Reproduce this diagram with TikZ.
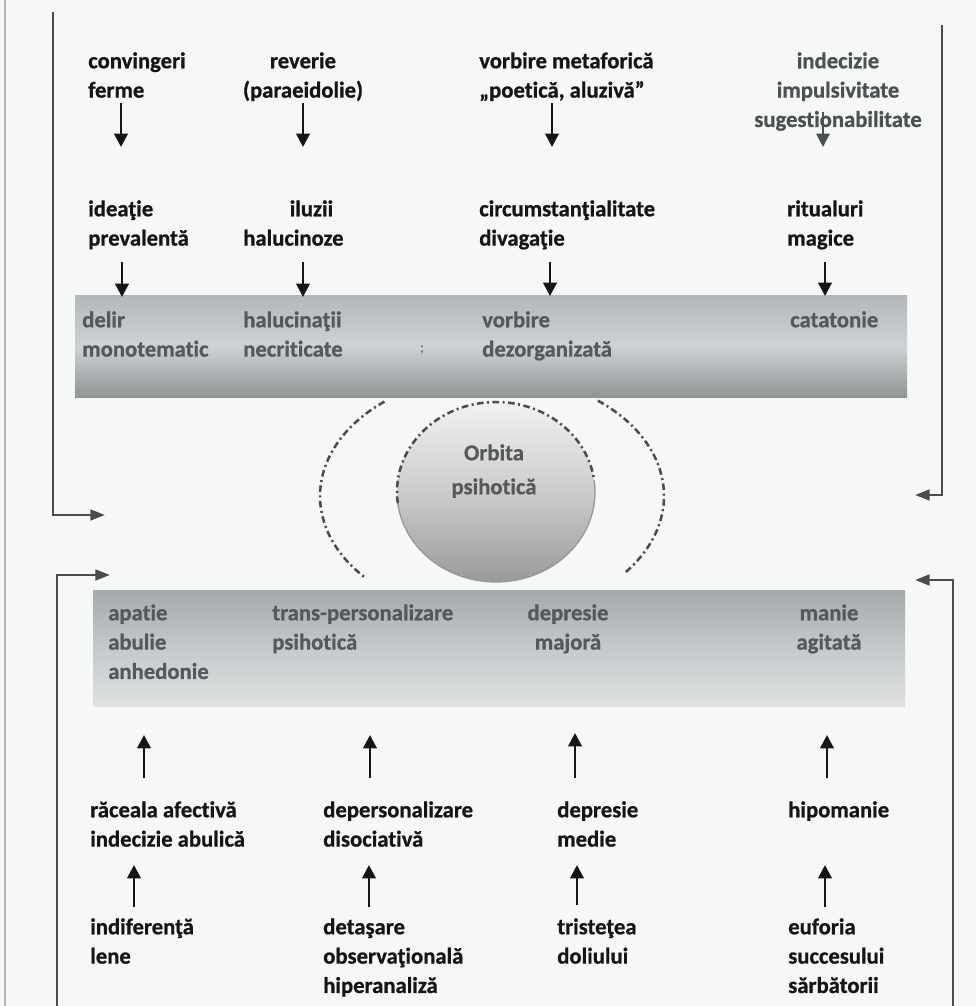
\documentclass[tikz,border=0pt]{standalone}
\usepackage{fontspec}
\setmainfont{Carlito}[Ligatures={TeX,NoCommon}, BoldFeatures={FakeBold=0.8}]
\usetikzlibrary{arrows.meta}

\definecolor{ink}{HTML}{151515}
\definecolor{softink}{HTML}{4C5052}
\definecolor{bandink}{HTML}{55595B}
\definecolor{wire}{HTML}{4A4C4E}
\definecolor{paper}{HTML}{F6F7F7}
\definecolor{pageedge}{HTML}{B4B6B7}
\definecolor{bandAtop}{HTML}{B3B7B9}
\definecolor{bandAmid}{HTML}{CFD2D4}
\definecolor{bandAbot}{HTML}{8F9495}
\definecolor{bandBtop}{HTML}{A5A9AB}
\definecolor{bandBmid}{HTML}{C6C9CB}
\definecolor{bandBbot}{HTML}{DFE1E2}
\definecolor{ballTop}{HTML}{F2F2F2}
\definecolor{ballMid}{HTML}{CCCCCC}
\definecolor{ballBot}{HTML}{9A9A9A}

\tikzset{
  lbl/.style={font=\fontsize{17}{22}\selectfont\bfseries, inner sep=0pt,
              align=left, anchor=north west, yshift=15.4pt, text=ink},
  clbl/.style={lbl, anchor=north, align=center},
  bandtxt/.style={text=bandink},
  softtxt/.style={text=softink},
  dnarr/.style={draw=ink, line width=2.1pt, -{Triangle[length=10pt,width=10pt]}},
  softarr/.style={dnarr, draw=softink, line width=1.5pt},
  wirearr/.style={draw=wire, line width=2pt, -{Triangle[length=11pt,width=8pt]}},
  orbitline/.style={draw=wire, line width=1.9pt,
                    dash pattern=on 5pt off 2.6pt on 1.5pt off 2.6pt},
}

\begin{document}
\begin{tikzpicture}[x=0.75pt, y=-0.75pt]
  % page
  \fill[paper] (0,0) rectangle (976,1006);
  \useasboundingbox (0,0) rectangle (976,1006);
  \draw[pageedge, line width=1.1pt] (5,0) -- (5,1006);

  % shaded bands
  \shade[top color=bandAtop, bottom color=bandAbot, middle color=bandAmid]
    (75,295) rectangle (907,397);
  \shade[top color=bandBtop, bottom color=bandBbot, middle color=bandBmid]
    (93,590) rectangle (905,706);

  % psychotic orbit
  \coordinate (C) at (496,492);
  \coordinate (O) at (492,496);
  \shade[top color=ballTop, bottom color=ballBot, middle color=ballMid]
    (C) ellipse [x radius=99, y radius=90];
  \draw[draw=gray!80, line width=1pt] (C) ++(-7.6:99 and 90)
    arc[start angle=-7.6, end angle=173, x radius=99, y radius=90];
  \draw[orbitline] (C) ++(173:99 and 90)
    arc[start angle=173, end angle=352.4, x radius=99, y radius=90];
  \draw[orbitline] (O) ++(231.3:172 and 121)
    arc[start angle=231.3, end angle=137.4, x radius=172, y radius=121];
  \draw[orbitline] (O) ++(-52:172 and 121)
    arc[start angle=-52, end angle=40, x radius=172, y radius=121];
  \node[clbl, font=\fontsize{17}{25.5}\selectfont\bfseries, yshift=2.45pt,
        text=bandink] (orb) at (494,460) {\strut Orbita\\psihotică};

  % row 1
  \node[lbl]  (conv) at (88,68)  {\strut convingeri\\ferme};
  \node[clbl] (rev)  at (303,68) {\strut reverie\\(paraeidolie)};
  \node[lbl]  (vmet) at (479,68) {\strut vorbire metaforică\\„poetică, aluzivă”};
  \node[clbl, softtxt] (indc) at (838,68) {\strut indecizie\\impulsivitate\\sugestionabilitate};

  % row 2
  \node[lbl] (idea) at (88,216)  {\strut ideaţie\\prevalentă};
  \node[lbl] (iluz) at (243,216) {\strut\hspace*{2.05em}iluzii\\halucinoze};
  \node[lbl] (circ) at (479,216) {\strut circumstanţialitate\\divagaţie};
  \node[lbl] (ritu) at (787,216) {\strut ritualuri\\magice};

  % band 1
  \node[lbl, bandtxt] (deli) at (82,327)  {\strut delir\\monotematic};
  \node[lbl, bandtxt] (halu) at (243,327) {\strut halucinaţii\\necriticate};
  \node[lbl, bandtxt] (vdez) at (482,327) {\strut vorbire\\dezorganizată};
  \node[lbl, bandtxt] (cata) at (790,327) {\strut catatonie};
  \node[bandink, font=\fontsize{11}{13}\selectfont, inner sep=0pt] (semi) at (422,350) {;};

  % band 2
  \node[lbl, bandtxt]  (apat) at (108,620) {\strut apatie\\abulie\\anhedonie};
  \node[lbl, bandtxt]  (trans) at (272,620) {\strut trans-personalizare\\psihotică};
  \node[clbl, bandtxt] (dmaj) at (568,620) {\strut depresie\\majoră};
  \node[clbl, bandtxt] (mani) at (829,620) {\strut manie\\agitată};

  % row 4
  \node[lbl] (race) at (90,817)  {\strut răceala afectivă\\indecizie abulică};
  \node[lbl] (depe) at (323,817) {\strut depersonalizare\\disociativă};
  \node[lbl] (dmed) at (557,817) {\strut depresie\\medie};
  \node[lbl] (hipo) at (788,817) {\strut hipomanie};

  % row 6
  \node[lbl] (indi) at (90,934)  {\strut indiferenţă\\lene};
  \node[lbl] (deta) at (323,934) {\strut detaşare\\observaţională\\hiperanaliză};
  \node[lbl] (tris) at (557,934) {\strut tristeţea\\doliului};
  \node[lbl] (eufo) at (788,934) {\strut euforia\\succesului\\sărbătorii};

  % downward arrows, rows 1 -> 2
  \coordinate (a11) at (121,103); \coordinate (b11) at (121,147);
  \coordinate (a12) at (303,103); \coordinate (b12) at (303,147);
  \coordinate (a13) at (552,103); \coordinate (b13) at (552,147);
  \coordinate (a14) at (823,112); \coordinate (b14) at (823,147);
  \draw[dnarr] (a11) -- (b11);
  \draw[dnarr] (a12) -- (b12);
  \draw[dnarr] (a13) -- (b13);
  \draw[softarr] (a14) -- (b14);

  % downward arrows, row 2 -> band 1
  \coordinate (a21) at (122,262); \coordinate (b21) at (122,297);
  \coordinate (a22) at (303,262); \coordinate (b22) at (303,297);
  \coordinate (a23) at (550,262); \coordinate (b23) at (550,296);
  \coordinate (a24) at (825,262); \coordinate (b24) at (825,296);
  \draw[dnarr] (a21) -- (b21);
  \draw[dnarr] (a22) -- (b22);
  \draw[dnarr] (a23) -- (b23);
  \draw[dnarr] (a24) -- (b24);

  % upward arrows, row 4 -> band 2
  \coordinate (a31) at (144,778); \coordinate (b31) at (144,735);
  \coordinate (a32) at (370,778); \coordinate (b32) at (370,735);
  \coordinate (a33) at (575,778); \coordinate (b33) at (575,733);
  \coordinate (a34) at (827,778); \coordinate (b34) at (827,735);
  \draw[dnarr] (a31) -- (b31);
  \draw[dnarr] (a32) -- (b32);
  \draw[dnarr] (a33) -- (b33);
  \draw[dnarr] (a34) -- (b34);

  % upward arrows, row 6 -> row 4
  \coordinate (a41) at (134,907); \coordinate (b41) at (134,865);
  \coordinate (a42) at (369,907); \coordinate (b42) at (369,865);
  \coordinate (a43) at (577,905); \coordinate (b43) at (577,865);
  \coordinate (a44) at (825,907); \coordinate (b44) at (825,865);
  \draw[dnarr] (a41) -- (b41);
  \draw[dnarr] (a42) -- (b42);
  \draw[dnarr] (a43) -- (b43);
  \draw[dnarr] (a44) -- (b44);

  % side return paths
  \coordinate (lt0) at (53,12);   \coordinate (lt1) at (105,515);
  \coordinate (rt0) at (942,25);  \coordinate (rt1) at (915,495);
  \coordinate (rb0) at (953,1006); \coordinate (rb1) at (915,580);
  \coordinate (lb0) at (57,1006); \coordinate (lb1) at (110,575);
  \draw[wirearr] (lt0) |- (lt1);
  \draw[wirearr] (rt0) |- (rt1);
  \draw[wirearr] (rb0) |- (rb1);
  \draw[wirearr] (lb0) |- (lb1);
\end{tikzpicture}
\end{document}
